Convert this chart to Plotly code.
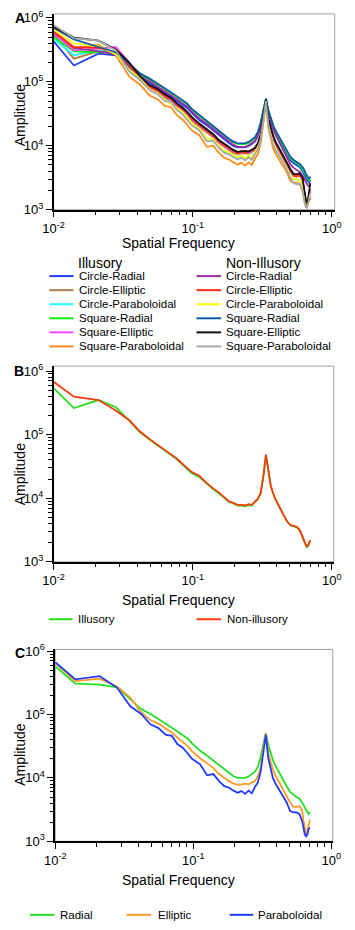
import plotly.graph_objects as go

# ---------------- data ----------------
FREQ = [0.010, 0.014, 0.021, 0.028, 0.035, 0.042, 0.049, 0.056, 0.063, 0.070,
        0.077, 0.084, 0.091, 0.098, 0.112, 0.126, 0.140, 0.154, 0.168, 0.182,
        0.196, 0.210, 0.224, 0.238, 0.252, 0.266, 0.280, 0.294, 0.308, 0.322,
        0.336, 0.350, 0.364, 0.378, 0.392, 0.420, 0.448, 0.476, 0.504, 0.532,
        0.560, 0.588, 0.616, 0.630, 0.644, 0.658, 0.672, 0.686, 0.700]

# Panel A - illusory
A_CIRCLE_RADIAL_ILL = [
    4.3e5, 1.8e5, 2.75e5, 2.6e5, 1.64e5, 1.14e5, 9.5e4, 8.0e4, 6.7e4, 5.8e4,
    5.0e4, 4.5e4, 3.9e4, 3.3e4, 2.5e4, 2.1e4, 1.74e4, 1.47e4, 1.26e4, 1.1e4,
    9.9e3, 9.4e3, 9.4e3, 9.4e3, 9.9e3, 1.06e4, 1.17e4, 1.42e4, 2.0e4, 3.2e4,
    5.0e4, 3.2e4, 2.4e4, 1.9e4, 1.58e4, 1.19e4, 9.3e3, 7.3e3, 5.9e3, 5.3e3,
    4.9e3, 4.6e3, 4.0e3, 3.7e3, 3.3e3, 3.0e3, 2.8e3, 2.65e3, 2.9e3]
A_CIRCLE_ELLIPTIC_ILL = [
    5.5e5, 2.3e5, 3.0e5, 2.7e5, 1.75e5, 1.04e5, 7.7e4, 6.9e4, 5.7e4, 5.0e4,
    4.1e4, 3.5e4, 3.05e4, 2.5e4, 1.95e4, 1.63e4, 1.37e4, 1.1e4, 9.6e3, 8.5e3,
    7.7e3, 7.4e3, 7.5e3, 7.7e3, 7.5e3, 8.1e3, 8.5e3, 1.01e4, 1.37e4, 2.8e4,
    4.9e4, 2.35e4, 1.72e4, 1.29e4, 1.07e4, 8.0e3, 6.3e3, 5.0e3, 3.9e3, 3.35e3,
    3.35e3, 3.4e3, 2.95e3, 2.0e3, 1.42e3, 1.22e3, 1.34e3, 1.7e3, 2.1e3]
A_CIRCLE_PARAB_ILL = [
    4.7e5, 2.6e5, 3.1e5, 2.8e5, 1.45e5, 1.09e5, 7.5e4, 6.5e4, 5.1e4, 4.9e4,
    3.65e4, 3.2e4, 2.6e4, 2.15e4, 1.77e4, 1.18e4, 1.23e4, 9.5e3, 7.9e3, 7.5e3,
    6.8e3, 6.3e3, 6.6e3, 6.0e3, 6.8e3, 6.1e3, 7.7e3, 9.0e3, 1.33e4, 2.7e4,
    4.9e4, 2.15e4, 1.5e4, 1.07e4, 9.0e3, 7.0e3, 5.5e3, 4.3e3, 3.2e3, 3.0e3,
    3.0e3, 2.8e3, 2.2e3, 1.65e3, 1.35e3, 1.25e3, 1.35e3, 1.65e3, 1.75e3]
A_SQUARE_RADIAL_ILL = [
    5.0e5, 3.0e5, 2.9e5, 2.95e5, 1.88e5, 1.31e5, 1.09e5, 9.2e4, 7.7e4, 6.6e4,
    5.8e4, 5.1e4, 4.5e4, 3.75e4, 2.9e4, 2.4e4, 2.0e4, 1.68e4, 1.45e4, 1.26e4,
    1.13e4, 1.07e4, 1.06e4, 1.06e4, 1.11e4, 1.2e4, 1.32e4, 1.6e4, 2.2e4, 3.5e4,
    5.4e4, 3.5e4, 2.6e4, 2.05e4, 1.7e4, 1.27e4, 9.9e3, 7.8e3, 6.3e3, 5.7e3,
    5.2e3, 4.9e3, 4.3e3, 4.0e3, 3.6e3, 3.3e3, 3.0e3, 2.85e3, 3.0e3]
A_SQUARE_ELLIPTIC_ILL = [
    5.7e5, 3.1e5, 3.3e5, 3.5e5, 2.0e5, 1.1e5, 8.1e4, 7.2e4, 6.0e4, 5.2e4,
    4.3e4, 3.7e4, 3.2e4, 2.65e4, 2.04e4, 1.71e4, 1.43e4, 1.15e4, 1.0e4, 8.9e3,
    8.1e3, 7.8e3, 7.9e3, 8.1e3, 7.9e3, 8.5e3, 8.9e3, 1.06e4, 1.43e4, 2.9e4,
    5.0e4, 2.45e4, 1.8e4, 1.35e4, 1.12e4, 8.4e3, 6.6e3, 5.2e3, 4.1e3, 3.5e3,
    3.5e3, 3.5e3, 3.0e3, 1.9e3, 1.3e3, 1.05e3, 1.2e3, 1.6e3, 2.0e3]
A_SQUARE_PARAB_ILL = [
    6.3e5, 3.3e5, 3.8e5, 2.6e5, 1.2e5, 8.9e4, 6.1e4, 5.3e4, 4.2e4, 4.0e4,
    3.0e4, 2.6e4, 2.15e4, 1.75e4, 1.45e4, 9.6e3, 1.0e4, 7.8e3, 6.5e3, 6.1e3,
    5.5e3, 5.1e3, 5.4e3, 4.9e3, 5.5e3, 5.0e3, 6.3e3, 7.4e3, 1.1e4, 2.4e4,
    4.7e4, 1.85e4, 1.3e4, 9.2e3, 7.6e3, 6.0e3, 4.8e3, 3.8e3, 2.8e3, 2.65e3,
    2.65e3, 2.5e3, 1.95e3, 1.45e3, 1.2e3, 1.12e3, 1.2e3, 1.45e3, 1.55e3]
# Panel A - non-illusory
A_CIRCLE_RADIAL_NON = [
    6.2e5, 3.4e5, 3.0e5, 2.7e5, 1.75e5, 1.22e5, 1.01e5, 8.5e4, 7.1e4, 6.1e4,
    5.3e4, 4.7e4, 4.1e4, 3.45e4, 2.65e4, 2.2e4, 1.83e4, 1.54e4, 1.32e4, 1.15e4,
    1.03e4, 9.7e3, 9.6e3, 9.6e3, 1.01e4, 1.09e4, 1.2e4, 1.45e4, 2.0e4, 3.2e4,
    5.0e4, 3.2e4, 2.35e4, 1.83e4, 1.5e4, 1.1e4, 8.4e3, 6.4e3, 5.1e3, 4.5e3,
    4.2e3, 3.9e3, 3.4e3, 3.1e3, 2.8e3, 2.6e3, 2.4e3, 2.3e3, 2.5e3]
A_CIRCLE_ELLIPTIC_NON = [
    6.0e5, 3.5e5, 3.4e5, 2.8e5, 1.85e5, 1.12e5, 8.3e4, 7.3e4, 6.1e4, 5.3e4,
    4.4e4, 3.8e4, 3.3e4, 2.7e4, 2.1e4, 1.75e4, 1.46e4, 1.18e4, 1.02e4, 9.1e3,
    8.3e3, 7.6e3, 8.3e3, 7.7e3, 8.3e3, 8.4e3, 9.3e3, 1.08e4, 1.45e4, 2.9e4,
    5.0e4, 2.5e4, 1.85e4, 1.38e4, 1.15e4, 8.6e3, 6.7e3, 5.3e3, 4.2e3, 3.4e3,
    3.3e3, 3.5e3, 3.0e3, 2.0e3, 1.4e3, 1.25e3, 1.3e3, 1.5e3, 1.4e3]
A_CIRCLE_PARAB_NON = [
    6.5e5, 4.0e5, 3.6e5, 2.7e5, 1.55e5, 1.12e5, 7.6e4, 6.6e4, 5.2e4, 4.4e4,
    3.8e4, 3.4e4, 2.8e4, 2.25e4, 1.85e4, 1.3e4, 1.28e4, 1.0e4, 8.4e3, 7.9e3,
    7.1e3, 6.6e3, 7.0e3, 6.4e3, 7.0e3, 6.5e3, 8.0e3, 9.4e3, 1.4e4, 2.8e4,
    5.0e4, 2.2e4, 1.55e4, 1.1e4, 9.2e3, 7.2e3, 5.6e3, 4.4e3, 3.3e3, 3.0e3,
    3.0e3, 2.9e3, 2.3e3, 1.7e3, 1.35e3, 1.25e3, 1.3e3, 1.6e3, 1.7e3]
A_SQUARE_RADIAL_NON = [
    7.0e5, 4.6e5, 3.5e5, 2.9e5, 1.92e5, 1.34e5, 1.12e5, 9.4e4, 7.9e4, 6.8e4,
    5.9e4, 5.3e4, 4.6e4, 3.8e4, 3.0e4, 2.45e4, 2.04e4, 1.72e4, 1.48e4, 1.29e4,
    1.16e4, 1.1e4, 1.09e4, 1.1e4, 1.15e4, 1.24e4, 1.36e4, 1.65e4, 2.3e4, 3.6e4,
    5.5e4, 3.6e4, 2.7e4, 2.12e4, 1.76e4, 1.33e4, 1.05e4, 8.3e3, 6.7e3, 6.0e3,
    5.6e3, 5.2e3, 4.6e3, 4.3e3, 3.8e3, 3.5e3, 3.2e3, 3.0e3, 3.3e3]
A_SQUARE_ELLIPTIC_NON = [
    7.3e5, 4.9e5, 4.4e5, 3.2e5, 2.0e5, 1.2e5, 8.8e4, 7.7e4, 6.4e4, 5.6e4,
    4.6e4, 4.0e4, 3.4e4, 2.85e4, 2.2e4, 1.83e4, 1.53e4, 1.23e4, 1.07e4, 9.5e3,
    8.6e3, 8.0e3, 8.1e3, 8.3e3, 8.1e3, 8.7e3, 9.2e3, 1.1e4, 1.5e4, 3.0e4,
    5.2e4, 2.6e4, 1.9e4, 1.42e4, 1.18e4, 8.8e3, 6.9e3, 5.4e3, 4.3e3, 3.6e3,
    3.6e3, 3.7e3, 3.2e3, 2.2e3, 1.5e3, 1.25e3, 1.4e3, 2.0e3, 2.6e3]
A_SQUARE_PARAB_NON = [
    7.7e5, 4.8e5, 4.4e5, 3.1e5, 1.45e5, 1.07e5, 7.4e4, 6.4e4, 5.0e4, 4.8e4,
    3.6e4, 3.15e4, 2.55e4, 2.1e4, 1.73e4, 1.18e4, 1.2e4, 9.3e3, 7.8e3, 7.3e3,
    6.6e3, 6.1e3, 6.5e3, 5.9e3, 6.6e3, 6.0e3, 7.5e3, 8.8e3, 1.3e4, 2.7e4,
    5.0e4, 2.1e4, 1.5e4, 1.05e4, 8.8e3, 6.9e3, 5.4e3, 4.2e3, 3.1e3, 2.6e3,
    2.5e3, 2.5e3, 2.0e3, 1.45e3, 1.15e3, 1.1e3, 1.2e3, 1.5e3, 1.8e3]

# Panel B
B_ILLUSORY = [
    5.4e5, 2.62e5, 3.5e5, 2.7e5, 1.65e5, 1.08e5, 8.4e4, 6.8e4, 5.6e4, 4.8e4,
    4.1e4, 3.4e4, 2.9e4, 2.5e4, 2.15e4, 1.7e4, 1.4e4, 1.2e4, 1.01e4, 8.8e3,
    8.3e3, 7.7e3, 7.7e3, 7.5e3, 7.8e3, 7.7e3, 8.8e3, 9.7e3, 1.2e4, 2.2e4,
    4.8e4, 2.45e4, 1.55e4, 1.2e4, 9.7e3, 7.2e3, 5.4e3, 4.3e3, 3.75e3, 3.65e3,
    3.5e3, 3.1e3, 2.45e3, 2.05e3, 1.85e3, 1.7e3, 1.75e3, 2.0e3, 2.15e3]
B_NONILLUSORY = [
    6.8e5, 3.96e5, 3.5e5, 2.4e5, 1.68e5, 1.11e5, 8.5e4, 6.9e4, 5.7e4, 4.85e4,
    4.2e4, 3.5e4, 3.0e4, 2.6e4, 2.24e4, 1.73e4, 1.43e4, 1.24e4, 1.04e4, 8.9e3,
    8.5e3, 7.9e3, 7.9e3, 7.7e3, 8.1e3, 7.9e3, 8.9e3, 9.8e3, 1.21e4, 2.24e4,
    4.85e4, 2.5e4, 1.57e4, 1.21e4, 9.8e3, 7.3e3, 5.5e3, 4.35e3, 3.8e3, 3.7e3,
    3.55e3, 3.16e3, 2.5e3, 2.09e3, 1.9e3, 1.75e3, 1.8e3, 2.04e3, 2.2e3]

# Panel C
C_RADIAL = [
    5.8e5, 3.07e5, 2.97e5, 2.69e5, 1.75e5, 1.22e5, 1.02e5, 8.6e4, 7.2e4, 6.2e4,
    5.4e4, 4.8e4, 4.2e4, 3.5e4, 2.7e4, 2.24e4, 1.86e4, 1.57e4, 1.35e4, 1.18e4,
    1.06e4, 1.0e4, 1.0e4, 1.0e4, 1.05e4, 1.13e4, 1.24e4, 1.5e4, 2.1e4, 3.3e4,
    5.1e4, 3.3e4, 2.45e4, 1.93e4, 1.6e4, 1.2e4, 9.4e3, 7.4e3, 6.0e3, 5.4e3,
    5.0e3, 4.7e3, 4.1e3, 3.8e3, 3.4e3, 3.1e3, 2.85e3, 2.7e3, 2.9e3]
C_ELLIPTIC = [
    6.5e5, 3.37e5, 3.67e5, 2.76e5, 1.85e5, 1.09e5, 8.1e4, 7.2e4, 6.0e4, 5.2e4,
    4.3e4, 3.7e4, 3.2e4, 2.65e4, 2.04e4, 1.71e4, 1.43e4, 1.15e4, 1.0e4, 8.9e3,
    8.1e3, 7.8e3, 7.9e3, 8.1e3, 7.9e3, 8.5e3, 8.9e3, 1.06e4, 1.43e4, 2.9e4,
    5.0e4, 2.45e4, 1.8e4, 1.35e4, 1.12e4, 8.4e3, 6.6e3, 5.2e3, 4.1e3, 3.5e3,
    3.5e3, 3.6e3, 3.1e3, 2.1e3, 1.48e3, 1.28e3, 1.4e3, 1.78e3, 2.2e3]
C_PARABOLOIDAL = [
    6.7e5, 3.58e5, 4.03e5, 2.66e5, 1.35e5, 1.02e5, 7.0e4, 6.1e4, 4.8e4, 4.6e4,
    3.4e4, 3.0e4, 2.45e4, 2.0e4, 1.65e4, 1.1e4, 1.15e4, 8.9e3, 7.4e3, 7.0e3,
    6.3e3, 5.85e3, 6.2e3, 5.6e3, 6.3e3, 5.7e3, 7.2e3, 8.4e3, 1.25e4, 2.6e4,
    4.8e4, 2.04e4, 1.43e4, 1.0e4, 8.4e3, 6.6e3, 5.2e3, 4.1e3, 3.0e3, 2.86e3,
    2.86e3, 2.7e3, 2.1e3, 1.57e3, 1.28e3, 1.2e3, 1.28e3, 1.57e3, 1.65e3]

X_TICK_VALS = [0.01, 0.1, 1]
X_TICK_TEXT = ["10<sup>-2</sup>", "10<sup>-1</sup>", "10<sup>0</sup>"]
Y_TICK_VALS = [1e3, 1e4, 1e5, 1e6]
Y_TICK_TEXT = ["10<sup>3</sup>", "10<sup>4</sup>", "10<sup>5</sup>", "10<sup>6</sup>"]

X_TITLE = "Spatial Frequency"
Y_TITLE = "Amplitude"

SERIES_A = [
    ("Circle-Radial", A_CIRCLE_RADIAL_ILL, "#1e3cff"),
    ("Circle-Elliptic", A_CIRCLE_ELLIPTIC_ILL, "#b07a45"),
    ("Circle-Paraboloidal", A_CIRCLE_PARAB_ILL, "#22ffff"),
    ("Square-Radial", A_SQUARE_RADIAL_ILL, "#11ee11"),
    ("Square-Elliptic", A_SQUARE_ELLIPTIC_ILL, "#ff44ff"),
    ("Square-Paraboloidal", A_SQUARE_PARAB_ILL, "#ff8c1a"),
    ("Circle-Radial", A_CIRCLE_RADIAL_NON, "#9a2f9e"),
    ("Circle-Elliptic", A_CIRCLE_ELLIPTIC_NON, "#ff2a10"),
    ("Circle-Paraboloidal", A_CIRCLE_PARAB_NON, "#ffff10"),
    ("Square-Radial", A_SQUARE_RADIAL_NON, "#0d5aa6"),
    ("Square-Elliptic", A_SQUARE_ELLIPTIC_NON, "#111111"),
    ("Square-Paraboloidal", A_SQUARE_PARAB_NON, "#a8a8a8"),
]
SERIES_B = [
    ("Illusory", B_ILLUSORY, "#22e01a"),
    ("Non-illusory", B_NONILLUSORY, "#ff3a0a"),
]
SERIES_C = [
    ("Radial", C_RADIAL, "#22e022"),
    ("Elliptic", C_ELLIPTIC, "#ff9a22"),
    ("Paraboloidal", C_PARABOLOIDAL, "#1f3cff"),
]

# ---------------- layout geometry (pixels) ----------------
W, H = 355, 930
FONT = "Arial, 'Liberation Sans', sans-serif"


def xp(px):
    return px / W


def yp(py):
    return 1 - py / H


PANELS = [
    dict(l=45, r=342, t=7, b=206, xr=[-2, 0.0204], yr=[3, 6.062]),
    dict(l=45, r=341, t=365, b=564, xr=[-2, 0.0136], yr=[3, 6.077]),
    dict(l=46.7, r=340, t=653, b=848, xr=[-2, 0.0117], yr=[3, 6.026]),
]

X_MINOR = [m * 10.0 ** e for e in (-2, -1) for m in range(2, 10)]
Y_MINOR = [m * 10.0 ** e for e in (3, 4, 5) for m in range(2, 10)]

fig = go.Figure()

for i, series in enumerate([SERIES_A, SERIES_B, SERIES_C]):
    sx = "x" if i == 0 else f"x{i + 1}"
    sy = "y" if i == 0 else f"y{i + 1}"
    for name, vals, col in series:
        fig.add_trace(go.Scatter(x=FREQ, y=vals, mode="lines", name=name,
                                 line=dict(color=col, width=1.8),
                                 xaxis=sx, yaxis=sy, showlegend=False))

layout = dict(width=W, height=H, margin=dict(l=0, r=0, t=0, b=0),
              paper_bgcolor="white", plot_bgcolor="white", showlegend=False,
              font=dict(family=FONT, color="black"))
shapes = []
annotations = []

for i, p in enumerate(PANELS):
    suf = "" if i == 0 else str(i + 1)
    common = dict(
        type="log", showline=True, linecolor="black", linewidth=1.5,
        ticks="outside", ticklen=6, tickwidth=1.2, tickcolor="black",
        showgrid=False, zeroline=False, ticklabeloverflow="allow",
        tickfont=dict(family=FONT, size=13, color="black"))
    layout["xaxis" + suf] = dict(
        common, domain=[xp(p["l"]), xp(p["r"])], range=p["xr"], anchor="y" + suf,
        tickmode="array", tickvals=X_TICK_VALS, ticktext=X_TICK_TEXT,
        minor=dict(tickmode="array", tickvals=X_MINOR, ticks="outside",
                   ticklen=3.5, tickwidth=1, tickcolor="black", showgrid=False))
    layout["yaxis" + suf] = dict(
        common, domain=[yp(p["b"]), yp(p["t"])], range=p["yr"], anchor="x" + suf,
        tickmode="array", tickvals=Y_TICK_VALS, ticktext=Y_TICK_TEXT,
        minor=dict(tickmode="array", tickvals=Y_MINOR, ticks="outside",
                   ticklen=3.5, tickwidth=1, tickcolor="black", showgrid=False))
    shapes.append(dict(type="rect", xref=f"x{suf} domain", yref=f"y{suf} domain",
                       x0=0, x1=1, y0=0, y1=1, layer="below",
                       line=dict(color="#a0a0a0", width=1)))

# panel letters
for letter, (lx, ly) in zip("ABC", [(2, 11), (1, 370), (2, 657)]):
    annotations.append(dict(text=f"<b>{letter}</b>", x=xp(lx), y=yp(ly), xref="paper", yref="paper",
                            xanchor="left", yanchor="middle", showarrow=False,
                            font=dict(family=FONT, size=14, color="black")))

# axis titles
for ty in (239.5, 603, 887):
    annotations.append(dict(text=X_TITLE, x=xp(176.5), y=yp(ty), xref="paper", yref="paper",
                            xanchor="center", yanchor="middle", showarrow=False,
                            font=dict(family=FONT, size=14, color="black")))
for ty in (110, 475, 760):
    annotations.append(dict(text=Y_TITLE, x=xp(9.5), y=yp(ty), xref="paper", yref="paper",
                            xanchor="center", yanchor="middle", showarrow=False, textangle=-90,
                            font=dict(family=FONT, size=14, color="black")))


def legend_item(x0, x1, tx, y, label, col, size=11.5):
    shapes.append(dict(type="line", xref="paper", yref="paper",
                       x0=xp(x0), x1=xp(x1), y0=yp(y), y1=yp(y),
                       line=dict(color=col, width=2)))
    annotations.append(dict(text=label, x=xp(tx), y=yp(y), xref="paper", yref="paper",
                            xanchor="left", yanchor="middle", showarrow=False,
                            font=dict(family=FONT, size=size, color="black")))


# legend A
for hx, head in ((69, "Illusory"), (225.5, "Non-Illusory")):
    annotations.append(dict(text=head, x=xp(hx), y=yp(260.5), xref="paper", yref="paper",
                            xanchor="left", yanchor="middle", showarrow=False,
                            font=dict(family=FONT, size=14, color="black")))
ROW_Y = [273.5, 287.8, 302.1, 316.4, 330.7, 345.0]
for k, (name, vals, col) in enumerate(SERIES_A):
    col_idx, row = divmod(k, 6)
    if col_idx == 0:
        legend_item(40.5, 66, 69.5, ROW_Y[row], name, col)
    else:
        legend_item(196, 222, 225.5, ROW_Y[row], name, col)

# legend B
legend_item(40, 65, 68.5, 622.3, SERIES_B[0][0], SERIES_B[0][2])
legend_item(196, 222, 226.5, 622.3, SERIES_B[1][0], SERIES_B[1][2])

# legend C
for (name, vals, col), (x0, x1, tx) in zip(SERIES_C, [(20, 46, 49.5), (122, 148, 153.5), (231, 256, 258.5)]):
    legend_item(x0, x1, tx, 922.7, name, col)

layout["shapes"] = shapes
layout["annotations"] = annotations
fig.update_layout(**layout)

fig.write_html("out.html", config={"displayModeBar": False},
               post_script="document.body.style.margin='0';document.body.style.overflow='hidden';")
